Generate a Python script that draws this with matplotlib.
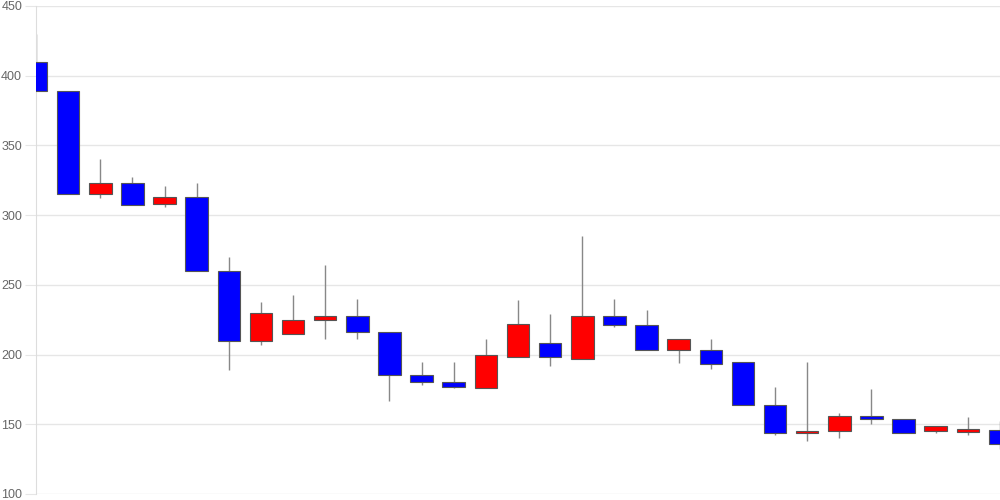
import matplotlib
matplotlib.use("Agg")
import matplotlib.pyplot as plt
from matplotlib.patches import Rectangle

plt.rcParams['font.family'] = ['Liberation Sans', 'DejaVu Sans']

opens  = [410, 389, 315, 323, 308, 313, 260, 210, 215, 225, 228, 216, 185, 180, 176, 198, 208, 197, 228, 221, 203, 203, 195, 164, 144, 145, 156, 154, 145, 144.7, 146]
closes = [389, 315, 323, 307, 313, 260, 210, 230, 225, 228, 216, 185, 180, 177, 200, 222, 198, 228, 221, 203, 211, 193, 164, 144, 145, 156, 154, 144, 149, 146.6, 136]
highs  = [430, 389, 340, 327, 321, 323, 270, 238, 243, 264, 240, 216, 195, 195, 211, 239, 229, 285, 240, 232, 211, 211, 195, 177, 195, 158, 175, 154, 149, 155, 152]
lows   = [389, 315, 312, 307, 306, 260, 189, 207, 215, 211, 211, 167, 178, 176, 176, 198, 192, 197, 220, 203, 194, 190, 164, 142, 138, 140, 150, 144, 144, 142, 132]
y_ticks = [100, 150, 200, 250, 300, 350, 400, 450]

fig = plt.figure(figsize=(10, 5), dpi=100)
ax = fig.add_axes([0.036, 0.012, 0.964, 0.976])

width = 0.7
for i, (o, c, h, l) in enumerate(zip(opens, closes, highs, lows)):
    color = '#ff0000' if c > o else '#0000ff'
    ax.vlines(i, l, h, color='#888888', linewidth=1, zorder=2)
    lo, hi = min(o, c), max(o, c)
    ax.add_patch(Rectangle((i - width / 2, lo), width, max(hi - lo, 0.6),
                           facecolor=color, edgecolor='#555555', linewidth=0.8, zorder=3))

ax.set_xlim(0, len(opens) - 1)
ax.set_ylim(100, 450)
ax.set_yticks(y_ticks)
ax.set_xticks([])
ax.grid(axis='y', color='#e6e6e6', linewidth=1, zorder=0)
ax.set_axisbelow(True)
for s in ['top', 'right', 'bottom']:
    ax.spines[s].set_visible(False)
ax.spines['left'].set_color('#dddddd')
ax.tick_params(axis='y', length=8, color='#e6e6e6', labelcolor='#666666', labelsize=9, pad=2)

fig.savefig('out.png', dpi=100)
